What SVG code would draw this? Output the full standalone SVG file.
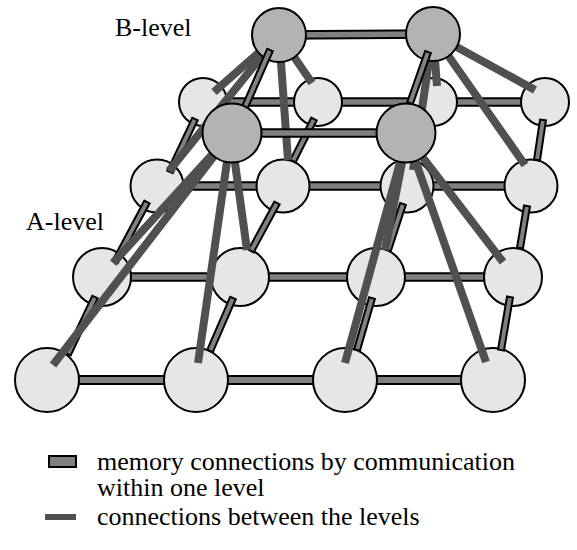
<svg xmlns="http://www.w3.org/2000/svg" width="577" height="550" viewBox="0 0 577 550">
<style>
.a{fill:#e6e6e6;stroke:#000;stroke-width:2}
.b{fill:#b3b3b3;stroke:#000;stroke-width:2}
.ho{stroke:#000;stroke-width:9.5;fill:none}
.hi{stroke:#808080;stroke-width:5.5;fill:none}
.bar{fill:#808080;stroke:#000;stroke-width:2}
.dl{stroke:#505050;stroke-width:8;fill:none}
.t{font-family:"Liberation Serif","DejaVu Serif",serif;font-size:26px;fill:#000}
</style>
<g id="connectors-a-rows">
<line class="ho" x1="203" y1="102" x2="545" y2="102"/><line class="hi" x1="203" y1="102" x2="545" y2="102"/>
<line class="ho" x1="157" y1="186" x2="531" y2="186"/><line class="hi" x1="157" y1="186" x2="531" y2="186"/>
<line class="ho" x1="102" y1="277" x2="513" y2="277"/><line class="hi" x1="102" y1="277" x2="513" y2="277"/>
<line class="ho" x1="47" y1="380" x2="493" y2="380" style="stroke-width:10"/><line class="hi" x1="47" y1="380" x2="493" y2="380" style="stroke-width:6"/>
</g>
<g id="a00"><circle class="a" cx="203" cy="102" r="24"/></g>
<g id="a01"><circle class="a" cx="318" cy="102" r="24"/></g>
<g id="a02"><circle class="a" cx="433" cy="102" r="24"/></g>
<g id="a03"><circle class="a" cx="545" cy="102" r="24"/></g>
<g id="a10"><circle class="a" cx="157" cy="186" r="26.5"/></g>
<g id="a11"><circle class="a" cx="283" cy="186" r="26.5"/></g>
<g id="a12"><circle class="a" cx="407" cy="186" r="26.5"/></g>
<g id="a13"><circle class="a" cx="531" cy="186" r="26.5"/></g>
<g id="a20"><circle class="a" cx="102" cy="277" r="29"/></g>
<g id="a21"><circle class="a" cx="240" cy="277" r="29"/></g>
<g id="a22"><circle class="a" cx="376" cy="277" r="29"/></g>
<g id="a23"><circle class="a" cx="513" cy="277" r="29"/></g>
<g id="a30"><circle class="a" cx="47" cy="380" r="32"/></g>
<g id="a31"><circle class="a" cx="196" cy="380" r="32"/></g>
<g id="a32"><circle class="a" cx="345" cy="380" r="32"/></g>
<g id="a33"><circle class="a" cx="493" cy="380" r="32"/></g>
<g id="connectors-a-depth">
<rect class="bar" x="0" y="-3" width="58.6" height="6" transform="translate(195 119) rotate(115.26)"/>
<rect class="bar" x="0" y="-3" width="68" height="6" transform="translate(147 202) rotate(118.07)"/>
<rect class="bar" x="0" y="-3" width="63.1" height="6" transform="translate(95 297) rotate(115.35)"/>
<rect class="bar" x="0" y="-3" width="47" height="6" transform="translate(314 119) rotate(116.57)"/>
<rect class="bar" x="0" y="-3" width="54.6" height="6" transform="translate(277 203) rotate(118.44)"/>
<rect class="bar" x="0" y="-3" width="57.8" height="6" transform="translate(233 298) rotate(113.46)"/>
<rect class="bar" x="0" y="-3" width="44.8" height="6" transform="translate(428 119) rotate(113.7)"/>
<rect class="bar" x="0" y="-3" width="48.4" height="6" transform="translate(403 204) rotate(108.06)"/>
<rect class="bar" x="0" y="-3" width="54.1" height="6" transform="translate(372 298) rotate(106.09)"/>
<rect class="bar" x="0" y="-3" width="40.5" height="6" transform="translate(543 120) rotate(98.53)"/>
<rect class="bar" x="0" y="-3" width="42.6" height="6" transform="translate(527 206) rotate(99.46)"/>
<rect class="bar" x="0" y="-3" width="53.8" height="6" transform="translate(510 297) rotate(99.64)"/>
</g>
<g id="connectors-between-levels">
<line class="dl" x1="279" y1="35" x2="214" y2="92"/>
<line class="dl" x1="279" y1="35" x2="312" y2="83"/>
<line class="dl" x1="279" y1="35" x2="169" y2="171"/>
<line class="dl" x1="279" y1="35" x2="288" y2="160"/>
<line class="dl" x1="433" y1="34" x2="437" y2="86"/>
<line class="dl" x1="433" y1="34" x2="535" y2="90"/>
<line class="dl" x1="433" y1="34" x2="413" y2="170"/>
<line class="dl" x1="433" y1="34" x2="525" y2="165"/>
<line class="dl" x1="231" y1="134" x2="113" y2="263"/>
<line class="dl" x1="231" y1="134" x2="247" y2="250"/>
<line class="dl" x1="231" y1="134" x2="53" y2="365"/>
<line class="dl" x1="231" y1="134" x2="198" y2="363"/>
<line class="dl" x1="407" y1="137" x2="385" y2="250"/>
<line class="dl" x1="407" y1="137" x2="503" y2="262"/>
<line class="dl" x1="407" y1="137" x2="345" y2="363"/>
<line class="dl" x1="407" y1="137" x2="486" y2="362"/>
</g>
<g id="connectors-b-back">
<line class="ho" x1="279" y1="35" x2="433" y2="34"/><line class="hi" x1="279" y1="35" x2="433" y2="34"/>
</g>
<g id="b00"><circle class="b" cx="279" cy="35" r="27"/></g>
<g id="b01"><circle class="b" cx="433" cy="34" r="27"/></g>
<g id="connectors-b-depth">
<rect class="bar" x="0" y="-3" width="62.2" height="6" transform="translate(270 50) rotate(113.68)"/>
<rect class="bar" x="0" y="-3" width="54.1" height="6" transform="translate(428 52) rotate(109.44)"/>
</g>
<g id="connectors-b-front">
<line class="ho" x1="232" y1="133" x2="406" y2="133"/><line class="hi" x1="232" y1="133" x2="406" y2="133"/>
</g>
<g id="b10"><circle class="b" cx="232" cy="133" r="29.5"/></g>
<g id="b11"><circle class="b" cx="406" cy="133" r="29.5"/></g>
<g id="labels">
<text class="t" x="115" y="36">B-level</text>
<text class="t" x="26" y="230">A-level</text>
</g>
<g id="legend">
<rect x="49" y="456" width="27" height="11" fill="#808080" stroke="#000" stroke-width="2"/>
<text class="t" x="97" y="470">memory connections by communication</text>
<text class="t" x="97" y="496">within one level</text>
<rect x="45" y="514" width="31" height="6" fill="#505050"/>
<text class="t" x="97" y="525">connections between the levels</text>
</g>
</svg>
